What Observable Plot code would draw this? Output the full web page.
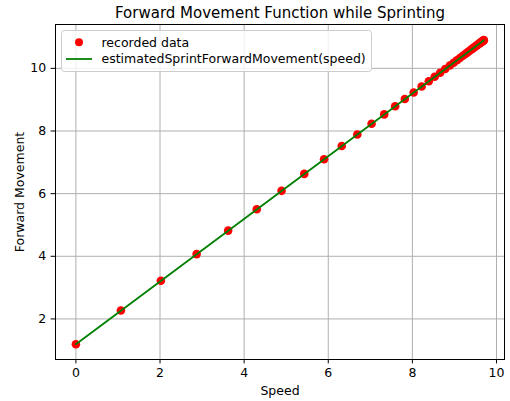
<!DOCTYPE html>
<html><head>
<meta charset="utf-8">
<script src="https://cdn.jsdelivr.net/npm/d3@7"></script>
<script src="https://cdn.jsdelivr.net/npm/@observablehq/plot@0.6"></script>
<style>
body{margin:0;background:#fff;font-family:'DejaVu Sans',sans-serif;}
#chart svg{display:block;}
#chart svg, #chart svg text{font-family:'DejaVu Sans',sans-serif !important;}
</style>
</head><body><div id="chart"></div>
<script>
const speed = [0, 1.07, 2.02, 2.87, 3.62, 4.30, 4.89, 5.43, 5.90, 6.32, 6.69, 7.03, 7.33, 7.59, 7.82, 8.03, 8.22, 8.39, 8.53, 8.66, 8.78, 8.89, 8.98, 9.06, 9.13, 9.20, 9.26, 9.31, 9.36, 9.40, 9.43, 9.47, 9.49, 9.52, 9.54, 9.56, 9.58, 9.60, 9.61, 9.62, 9.64, 9.65, 9.66, 9.67, 9.68, 9.69, 9.70];
const forward = [1.19, 2.27, 3.22, 4.07, 4.82, 5.50, 6.09, 6.63, 7.10, 7.52, 7.89, 8.23, 8.53, 8.79, 9.02, 9.23, 9.42, 9.59, 9.73, 9.86, 9.98, 10.09, 10.18, 10.26, 10.33, 10.40, 10.46, 10.51, 10.56, 10.60, 10.63, 10.67, 10.69, 10.72, 10.74, 10.76, 10.78, 10.80, 10.81, 10.82, 10.84, 10.85, 10.86, 10.87, 10.88, 10.89, 10.90];
const fitSpeed = [0, 9.70];
const fitForward = [1.19, 10.90];
const xTicks = [0, 2, 4, 6, 8, 10];
const yTicks = [2, 4, 6, 8, 10];
const titleText = "Forward Movement Function while Sprinting";
const xLabel = "Speed";
const yLabel = "Forward Movement";
const legendLabels = ["recorded data", "estimatedSprintForwardMovement(speed)"];

const FONT = "'DejaVu Sans', sans-serif";
const FS = 12.5;
const points = speed.map((s, i) => ({s, f: forward[i]}));
const fit = fitSpeed.map((s, i) => ({s, f: fitForward[i]}));

const plot = Plot.plot({
  width: 510, height: 401,
  marginLeft: 55, marginRight: 6, marginTop: 24, marginBottom: 42,
  style: `font-family: ${FONT}; font-size: ${FS}px; background: #fff; color: #000;`,
  x: {domain: [-0.485, 10.19]},
  y: {domain: [0.705, 11.40]},
  marks: [
    Plot.gridX(xTicks, {stroke: "#b0b0b0", strokeOpacity: 1, strokeWidth: 1}),
    Plot.gridY(yTicks, {stroke: "#b0b0b0", strokeOpacity: 1, strokeWidth: 1}),
    Plot.dot(points, {x: "s", y: "f", r: 4.3, fill: "#ff0000"}),
    Plot.line(fit, {x: "s", y: "f", stroke: "#008000", strokeWidth: 1.8}),
    Plot.frame({stroke: "#000", strokeWidth: 1}),
    Plot.axisX(xTicks, {tickSize: 4.4, tickPadding: 4, label: null, fontSize: FS}),
    Plot.axisY(yTicks, {tickSize: 4.4, tickPadding: 5, label: null, fontSize: FS}),
    Plot.text([titleText], {frameAnchor: "top", lineAnchor: "middle", textAnchor: "middle", dy: -11, fontSize: 15, text: d => d}),
    Plot.text([xLabel], {frameAnchor: "bottom", lineAnchor: "middle", textAnchor: "middle", dy: 31, fontSize: FS, text: d => d}),
    Plot.text([yLabel], {frameAnchor: "left", lineAnchor: "middle", textAnchor: "middle", dx: -36, rotate: -90, fontSize: FS, text: d => d})
  ]
});

const svg = d3.select(plot);
svg.attr("font-family", FONT);
const lg = svg.append("g").attr("font-family", FONT).attr("font-size", FS).attr("text-anchor", "start");
lg.append("rect").attr("x", 61.5).attr("y", 30.5).attr("width", 310).attr("height", 41)
  .attr("rx", 3).attr("fill", "#fff").attr("fill-opacity", 0.8).attr("stroke", "#cccccc");
lg.append("circle").attr("cx", 79).attr("cy", 42.3).attr("r", 4).attr("fill", "red");
lg.append("line").attr("x1", 66).attr("x2", 92).attr("y1", 59).attr("y2", 59)
  .attr("stroke", "green").attr("stroke-width", 1.8);
legendLabels.forEach((t, i) => {
  lg.append("text").attr("x", 101.5).attr("y", i === 0 ? 42.5 : 59)
    .attr("dy", "0.35em").attr("text-anchor", "start").attr("fill", "#000").text(t);
});

document.getElementById("chart").appendChild(plot);
</script>
</body></html>
